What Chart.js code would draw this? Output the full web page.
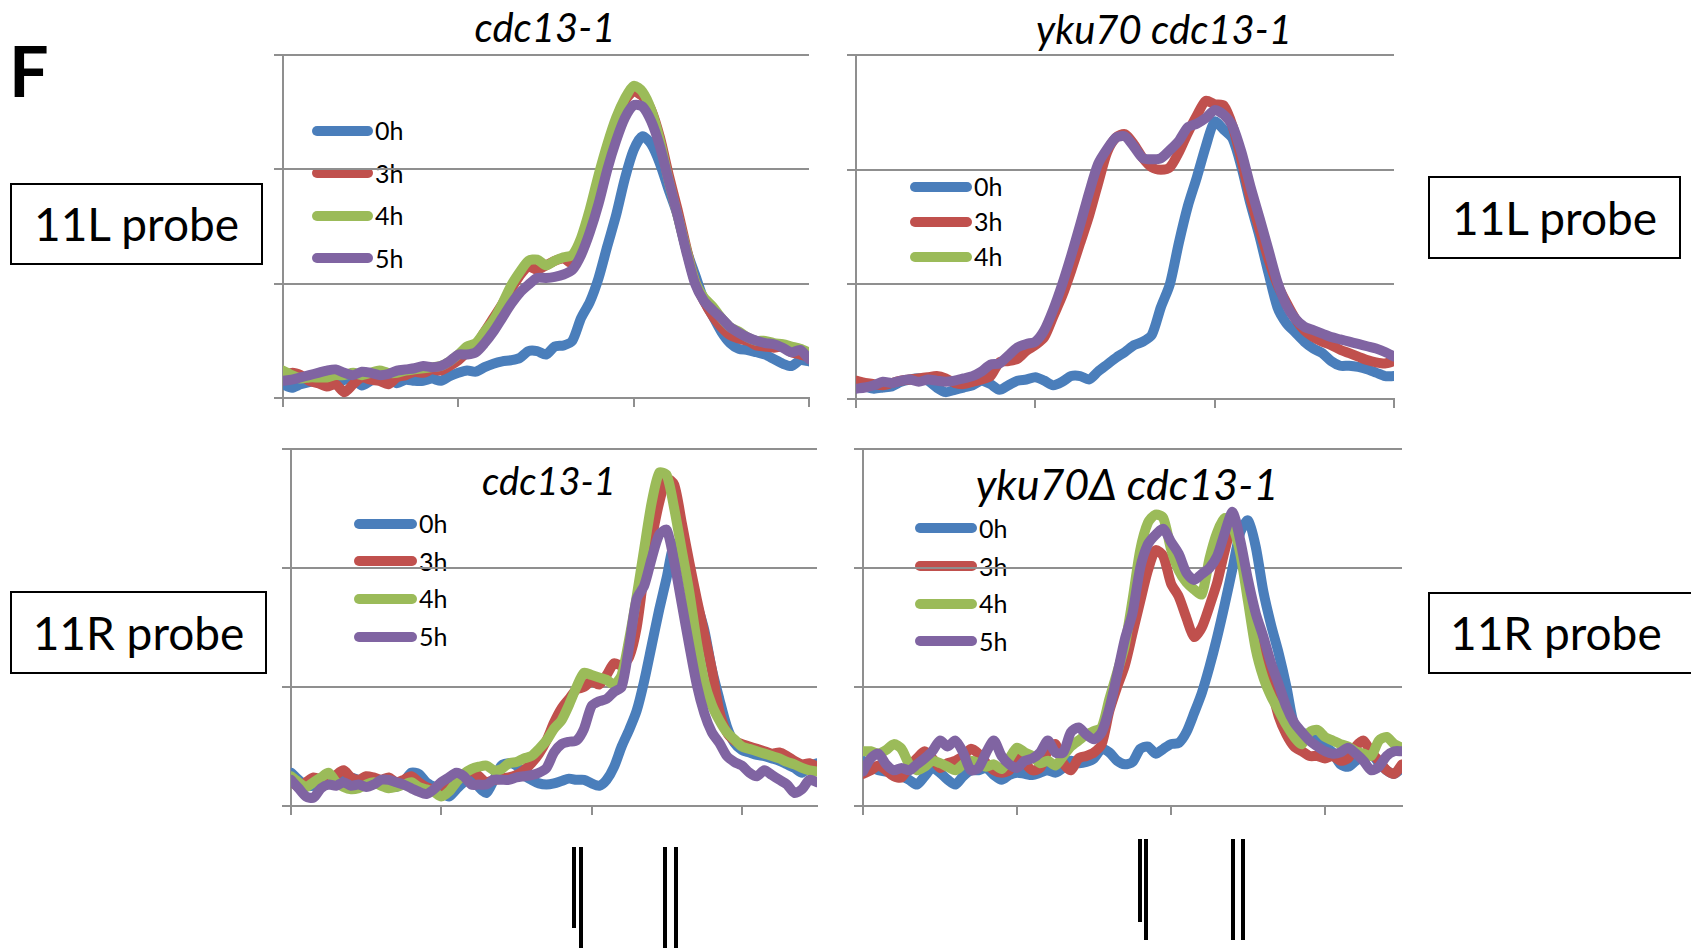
<!DOCTYPE html>
<html><head><meta charset="utf-8">
<script src="https://cdn.jsdelivr.net/npm/chart.js@4"></script>
<style>
html,body{margin:0;padding:0;background:#fff;}
body{width:1691px;height:948px;position:relative;overflow:hidden;font-family:Lato,"Open Sans","DejaVu Sans",sans-serif;color:#000;}
canvas{position:absolute;}
.t{position:absolute;white-space:nowrap;line-height:1;}
.title{font-style:italic;transform:translateX(-50%);}
.box{position:absolute;border:2px solid #000;box-sizing:border-box;display:flex;align-items:center;justify-content:center;font-size:46px;line-height:1;white-space:nowrap;}
.sw{position:absolute;height:10px;border-radius:5px;}
.lt{position:absolute;font-size:25px;line-height:1;white-space:nowrap;}
</style></head><body>
<div class="t" style="left:9px;top:35px;font-size:70px;font-weight:bold;">F</div>
<div class="t title" style="left:545px;top:7px;font-size:40px;">cdc13-1</div>
<div class="t title" style="left:1164px;top:9px;font-size:40px;">yku70 cdc13-1</div>
<div class="t title" style="left:549px;top:461px;font-size:38px;">cdc13-1</div>
<div class="t title" style="left:1127px;top:462px;font-size:43px;">yku70Δ cdc13-1</div>
<div class="box" style="left:10px;top:183px;width:253px;height:82px;">11L probe</div>
<div class="box" style="left:1428px;top:176px;width:253px;height:83px;">11L probe</div>
<div class="box" style="left:10px;top:591px;width:257px;height:83px;">11R probe</div>
<div class="box" style="left:1428px;top:592px;width:290px;height:82px;justify-content:flex-start;padding-left:20px;">11R probe</div>
<div id="legends"></div>
<canvas id="cTL"></canvas>
<canvas id="cTR"></canvas>
<canvas id="cBL"></canvas>
<canvas id="cBR"></canvas>
<script>
// ---------- data ----------
const seriesLabels = ['0h', '3h', '4h', '5h'];
const yTicks = [0, 1, 2, 3];
const xTicksTop = [0, 1, 2, 3];
const xTicksBottom = [0, 1, 2, 3];
const xMaxTop = 3;
const xMaxBottom = 3.5;
const xStep = 0.05;

// Top-left: cdc13-1, 11L probe
const tl0h = [0.12,0.09,0.12,0.14,0.15,0.14,0.12,0.16,0.17,0.11,0.15,0.17,0.17,0.13,0.16,0.15,0.15,0.17,0.15,0.19,0.22,0.24,0.23,0.27,0.3,0.32,0.33,0.35,0.41,0.41,0.38,0.45,0.46,0.5,0.7,0.84,1.05,1.33,1.6,1.92,2.17,2.29,2.22,2.05,1.82,1.6,1.3,1.08,0.86,0.72,0.58,0.48,0.43,0.42,0.4,0.38,0.34,0.3,0.28,0.33,0.32];
const tl3h = [0.18,0.22,0.2,0.15,0.13,0.1,0.12,0.05,0.12,0.18,0.16,0.15,0.12,0.18,0.2,0.23,0.22,0.25,0.24,0.28,0.33,0.4,0.46,0.58,0.7,0.82,0.95,1.07,1.15,1.12,1.16,1.2,1.22,1.18,1.3,1.55,1.85,2.15,2.4,2.6,2.68,2.64,2.52,2.28,1.95,1.65,1.32,1.02,0.85,0.72,0.62,0.55,0.52,0.5,0.46,0.45,0.44,0.45,0.4,0.38,0.36];
const tl4h = [0.24,0.2,0.17,0.18,0.18,0.18,0.2,0.2,0.22,0.2,0.22,0.24,0.22,0.22,0.24,0.25,0.26,0.27,0.28,0.32,0.38,0.45,0.48,0.58,0.68,0.82,0.98,1.1,1.2,1.21,1.16,1.2,1.23,1.25,1.4,1.65,1.95,2.22,2.45,2.62,2.73,2.68,2.52,2.25,1.9,1.6,1.3,1.02,0.88,0.8,0.7,0.62,0.58,0.53,0.5,0.5,0.48,0.47,0.45,0.43,0.4];
const tl5h = [0.15,0.16,0.18,0.2,0.22,0.24,0.25,0.22,0.2,0.23,0.22,0.2,0.21,0.24,0.25,0.26,0.28,0.27,0.28,0.32,0.38,0.38,0.4,0.48,0.58,0.7,0.82,0.92,0.99,1.05,1.05,1.06,1.08,1.12,1.25,1.45,1.7,2.0,2.25,2.45,2.56,2.55,2.42,2.2,1.9,1.6,1.28,1.0,0.85,0.77,0.7,0.62,0.57,0.53,0.5,0.48,0.47,0.44,0.4,0.42,0.34];

// Top-right: yku70 cdc13-1, 11L probe
const tr0h = [0.13,0.11,0.09,0.1,0.11,0.15,0.17,0.18,0.16,0.1,0.06,0.08,0.1,0.12,0.16,0.13,0.08,0.12,0.16,0.17,0.19,0.16,0.12,0.15,0.2,0.2,0.17,0.24,0.3,0.36,0.41,0.47,0.5,0.56,0.8,1.0,1.36,1.68,1.93,2.2,2.42,2.35,2.27,2.02,1.7,1.42,1.1,0.8,0.66,0.58,0.5,0.44,0.4,0.33,0.29,0.29,0.28,0.26,0.23,0.2,0.2];
const tr3h = [0.16,0.14,0.13,0.12,0.14,0.16,0.17,0.18,0.19,0.2,0.18,0.14,0.13,0.15,0.17,0.2,0.32,0.33,0.35,0.42,0.47,0.54,0.72,0.9,1.12,1.36,1.6,1.88,2.15,2.28,2.31,2.22,2.1,2.02,2.0,2.02,2.15,2.32,2.47,2.6,2.57,2.56,2.38,2.08,1.75,1.48,1.22,1.0,0.84,0.7,0.6,0.54,0.5,0.47,0.43,0.4,0.37,0.34,0.32,0.31,0.33];
const tr5h = [0.09,0.1,0.12,0.15,0.14,0.16,0.17,0.15,0.17,0.16,0.15,0.16,0.18,0.2,0.24,0.3,0.31,0.38,0.45,0.48,0.5,0.6,0.78,1.0,1.25,1.52,1.8,2.05,2.18,2.28,2.29,2.2,2.1,2.09,2.1,2.17,2.25,2.37,2.4,2.45,2.52,2.48,2.38,2.15,1.85,1.58,1.3,1.02,0.82,0.7,0.63,0.6,0.57,0.54,0.52,0.5,0.48,0.46,0.44,0.41,0.37];

// Bottom-left: cdc13-1, 11R probe
const bl0h = [0.28,0.22,0.17,0.17,0.19,0.2,0.24,0.25,0.24,0.22,0.2,0.21,0.2,0.17,0.16,0.2,0.28,0.27,0.2,0.16,0.12,0.08,0.14,0.2,0.24,0.16,0.11,0.22,0.34,0.36,0.34,0.26,0.22,0.19,0.18,0.19,0.21,0.23,0.22,0.22,0.19,0.17,0.22,0.33,0.5,0.64,0.8,1.05,1.35,1.65,1.92,2.2,2.1,1.9,1.7,1.48,1.15,0.9,0.67,0.53,0.47,0.45,0.43,0.42,0.4,0.38,0.35,0.32,0.28,0.33,0.36];
const bl3h = [0.22,0.16,0.2,0.24,0.22,0.2,0.26,0.3,0.24,0.22,0.25,0.24,0.22,0.24,0.2,0.22,0.25,0.2,0.16,0.14,0.14,0.18,0.22,0.25,0.3,0.25,0.2,0.22,0.23,0.24,0.26,0.3,0.36,0.44,0.55,0.7,0.82,0.9,0.98,1.0,1.05,1.02,1.1,1.2,1.18,1.25,1.5,1.95,2.25,2.55,2.75,2.7,2.38,2.05,1.74,1.45,1.15,0.8,0.62,0.55,0.52,0.5,0.48,0.46,0.44,0.45,0.42,0.38,0.35,0.36,0.33];
const bl4h = [0.25,0.2,0.16,0.2,0.24,0.28,0.2,0.16,0.14,0.15,0.18,0.2,0.17,0.15,0.16,0.18,0.2,0.16,0.14,0.12,0.08,0.12,0.2,0.27,0.31,0.33,0.34,0.3,0.31,0.36,0.37,0.4,0.42,0.48,0.55,0.65,0.72,0.85,1.0,1.12,1.1,1.08,1.06,1.02,1.1,1.4,1.76,2.16,2.55,2.8,2.78,2.5,2.15,1.8,1.38,1.05,0.85,0.72,0.62,0.56,0.5,0.48,0.46,0.44,0.42,0.4,0.37,0.35,0.32,0.3,0.29];
const bl5h = [0.22,0.15,0.08,0.07,0.15,0.18,0.17,0.2,0.17,0.18,0.16,0.18,0.22,0.22,0.2,0.18,0.15,0.12,0.1,0.14,0.2,0.24,0.28,0.25,0.18,0.18,0.18,0.22,0.22,0.22,0.24,0.25,0.26,0.28,0.32,0.45,0.52,0.54,0.55,0.65,0.84,0.88,0.9,0.96,1.0,1.34,1.74,1.85,2.08,2.28,2.32,2.05,1.7,1.35,1.02,0.78,0.62,0.53,0.42,0.37,0.34,0.28,0.25,0.3,0.26,0.22,0.18,0.11,0.14,0.22,0.2];

// Bottom-right: yku70Δ cdc13-1, 11R probe
const br0h = [0.38,0.33,0.3,0.29,0.28,0.25,0.22,0.18,0.25,0.32,0.28,0.22,0.18,0.25,0.3,0.3,0.32,0.26,0.22,0.26,0.28,0.27,0.26,0.28,0.3,0.28,0.32,0.38,0.36,0.37,0.4,0.48,0.45,0.38,0.35,0.37,0.48,0.5,0.44,0.48,0.52,0.53,0.62,0.78,0.95,1.17,1.42,1.7,2.0,2.3,2.4,2.18,1.8,1.52,1.28,1.0,0.68,0.62,0.58,0.55,0.5,0.45,0.35,0.33,0.38,0.42,0.44,0.36,0.3,0.27,0.32];
const br3h = [0.27,0.3,0.34,0.3,0.25,0.24,0.33,0.4,0.46,0.4,0.32,0.36,0.38,0.42,0.48,0.44,0.36,0.3,0.28,0.3,0.4,0.36,0.3,0.32,0.46,0.52,0.36,0.3,0.4,0.42,0.45,0.52,0.8,1.0,1.18,1.45,1.72,1.98,2.15,2.1,1.87,1.76,1.58,1.42,1.5,1.68,1.88,2.15,2.35,2.18,1.8,1.5,1.25,1.0,0.75,0.6,0.5,0.46,0.42,0.42,0.4,0.42,0.38,0.4,0.5,0.55,0.45,0.38,0.3,0.27,0.35];
const br4h = [0.46,0.46,0.44,0.47,0.52,0.48,0.35,0.3,0.33,0.38,0.36,0.33,0.3,0.35,0.38,0.36,0.33,0.35,0.31,0.4,0.49,0.45,0.42,0.36,0.38,0.34,0.42,0.5,0.55,0.6,0.63,0.66,0.9,1.12,1.35,1.73,2.15,2.38,2.45,2.42,2.16,1.98,1.88,1.82,1.78,2.08,2.3,2.42,2.35,2.12,1.72,1.32,1.08,0.92,0.8,0.68,0.58,0.52,0.62,0.64,0.58,0.55,0.52,0.5,0.46,0.44,0.42,0.55,0.58,0.52,0.49];
const br5h = [0.29,0.4,0.44,0.35,0.3,0.32,0.3,0.35,0.4,0.46,0.55,0.5,0.55,0.45,0.3,0.32,0.45,0.55,0.42,0.35,0.32,0.38,0.4,0.45,0.55,0.45,0.45,0.62,0.66,0.6,0.56,0.62,0.82,1.1,1.4,1.62,2.0,2.2,2.28,2.33,2.22,2.12,1.96,1.9,1.95,2.0,2.1,2.3,2.47,2.23,1.9,1.62,1.42,1.2,1.02,0.83,0.7,0.62,0.55,0.5,0.46,0.44,0.45,0.49,0.44,0.38,0.3,0.33,0.42,0.46,0.46];

// Restriction-site markers under the bottom panels (x positions in axis units)
const blMarks = [1.88, 1.93, 2.49, 2.56];
const brMarks = [1.80, 1.84, 2.40, 2.47];

// ---------- styling ----------
const COLORS = {'0h':'#4A7EBB','3h':'#C0504D','4h':'#9BBB59','5h':'#8064A2'};
const ORDER = {'0h':4,'3h':3,'4h':2,'5h':1};
const GRID = '#8f8f8f';

function xs(n){ const a=[]; for(let i=0;i<n;i++) a.push(+(i*xStep).toFixed(3)); return a; }

const marksPlugin = {
  id:'marks',
  afterDraw(chart, args, opts){
    if(!opts || !opts.values) return;
    const ctx = chart.ctx, sx = chart.scales.x;
    ctx.save(); ctx.fillStyle = '#000';
    opts.values.forEach((v,i)=>{
      const x = sx.getPixelForValue(v);
      ctx.fillRect(Math.round(x-2), opts.top, 4, opts.bottoms[i]-opts.top);
    });
    ctx.restore();
  }
};

function makeChart(id, box, xmax, xticks, series, marks){
  const c = document.getElementById(id);
  c.width = box.w; c.height = box.h;
  c.style.left = box.l+'px'; c.style.top = box.t+'px';
  c.style.width = box.w+'px'; c.style.height = box.h+'px';
  const grid = xs(Math.max(...series.map(s=>s.data.length)));
  const datasets = series.map(s=>({
    label:s.label,
    data:s.data.map((v,i)=>({x:grid[i], y:v})),
    borderColor:COLORS[s.label], backgroundColor:COLORS[s.label],
    borderWidth:10, pointRadius:0, tension:0.25,
    borderJoinStyle:'round', borderCapStyle:'round',
    order:ORDER[s.label], fill:false
  }));
  return new Chart(c, {
    type:'line',
    data:{datasets},
    plugins:[marksPlugin],
    options:{
      responsive:false, animation:false, devicePixelRatio:1,
      layout:{padding:{left:box.pl, top:box.pt, right:box.pr, bottom:box.pb}},
      plugins:{legend:{display:false}, tooltip:{enabled:false}, marks: marks || {}},
      scales:{
        x:{type:'linear', min:0, max:xmax,
           afterBuildTicks:(s)=>{ s.ticks = xticks.map(v=>({value:v})); },
           ticks:{display:false},
           grid:{drawOnChartArea:false, drawTicks:true, tickLength:9, color:GRID, lineWidth:2},
           border:{display:true, color:GRID, width:2},
           afterFit:(s)=>{ s.height = 9; }},
        y:{min:0, max:3,
           afterBuildTicks:(s)=>{ s.ticks = yTicks.map(v=>({value:v})); },
           ticks:{display:false},
           grid:{color:GRID, lineWidth:2, tickLength:9, drawTicks:true},
           border:{display:true, color:GRID, width:2},
           afterFit:(s)=>{ s.width = 9; }}
      }
    }
  });
}

// chart boxes (canvas placement); chart area = inside padding + 9px axis tick band
makeChart('cTL', {l:268,t:49,w:547,h:364,pl:6,pt:6,pr:6,pb:6}, xMaxTop, xTicksTop,
  [{label:'0h',data:tl0h},{label:'3h',data:tl3h},{label:'4h',data:tl4h},{label:'5h',data:tl5h}]);
makeChart('cTR', {l:841,t:49,w:559,h:365,pl:6,pt:6,pr:6,pb:6}, xMaxTop, xTicksTop,
  [{label:'0h',data:tr0h},{label:'3h',data:tr3h},{label:'5h',data:tr5h}]);
makeChart('cBL', {l:276,t:443,w:547,h:505,pl:6,pt:6,pr:6,pb:133}, xMaxBottom, xTicksBottom,
  [{label:'0h',data:bl0h},{label:'3h',data:bl3h},{label:'4h',data:bl4h},{label:'5h',data:bl5h}],
  {values:blMarks, top:404, bottoms:[485,505,505,505]});
makeChart('cBR', {l:848,t:443,w:560,h:505,pl:6,pt:6,pr:6,pb:133}, xMaxBottom, xTicksBottom,
  [{label:'0h',data:br0h},{label:'3h',data:br3h},{label:'4h',data:br4h},{label:'5h',data:br5h}],
  {values:brMarks, top:396, bottoms:[479,497,497,497]});

// legends (as in the original figure, drawn inside each panel)
const legendSpecs = [
  {labels:['0h','3h','4h','5h'], x0:312, x1:373, tx:375, ys:[130.7,173,215.5,258]},
  {labels:['0h','3h','4h'], x0:910, x1:972, tx:974, ys:[186.7,221.7,256.7]},
  {labels:['0h','3h','4h','5h'], x0:354, x1:417, tx:419, ys:[523.5,561,598.5,636.5]},
  {labels:['0h','3h','4h','5h'], x0:915, x1:977, tx:979, ys:[528.3,566,603.5,641]}
];
const lg = document.getElementById('legends');
legendSpecs.forEach(sp=>{
  sp.labels.forEach((lab,i)=>{
    const sw = document.createElement('div');
    sw.className='sw'; sw.style.left=sp.x0+'px'; sw.style.width=(sp.x1-sp.x0)+'px';
    sw.style.top=(sp.ys[i]-5)+'px'; sw.style.background=COLORS[lab];
    lg.appendChild(sw);
    const t = document.createElement('div');
    t.className='lt'; t.textContent=lab; t.style.left=sp.tx+'px'; t.style.top=(sp.ys[i]-12.5)+'px';
    lg.appendChild(t);
  });
});
</script>
</body></html>
